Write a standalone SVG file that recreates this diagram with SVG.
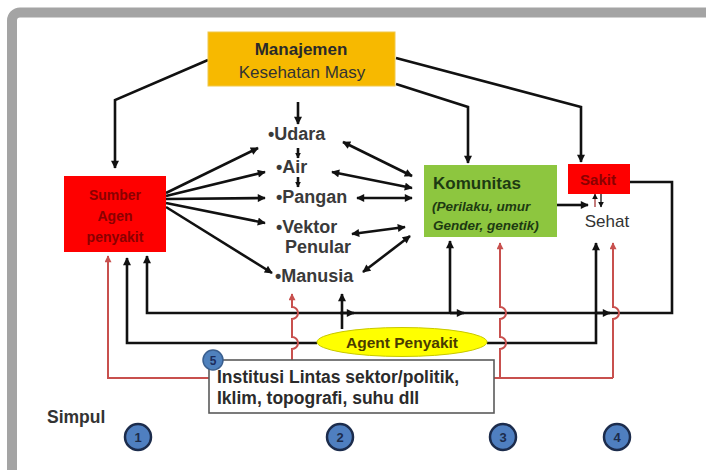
<svg xmlns="http://www.w3.org/2000/svg" width="706" height="470" viewBox="0 0 706 470">
<style>
text{font-family:"Liberation Sans",Arial,sans-serif;}
.b{font-weight:bold;}
.item{font-size:18px;font-weight:bold;fill:#3a3a3a;}
.k{fill:none;stroke:#111;stroke-width:2.6;}
.r{fill:none;stroke:#c8504e;stroke-width:2;}
.num{font-size:13px;font-weight:bold;fill:#1c2c4c;text-anchor:middle;}
.circ{fill:#4f7fc0;stroke:#1c2c4c;stroke-width:2.5;}
</style>
<defs>
<marker id="ak" viewBox="0 0 10 10" refX="9" refY="5" markerWidth="9" markerHeight="8" markerUnits="userSpaceOnUse" orient="auto-start-reverse">
<path d="M0,0 L10,5 L0,10 z" fill="#111"/>
</marker>
<marker id="ar" viewBox="0 0 10 10" refX="9" refY="5" markerWidth="8" markerHeight="7" markerUnits="userSpaceOnUse" orient="auto">
<path d="M0,0 L10,5 L0,10 z" fill="#c8504e"/>
</marker>
<marker id="as" viewBox="0 0 10 10" refX="9" refY="5" markerWidth="6" markerHeight="6" markerUnits="userSpaceOnUse" orient="auto">
<path d="M0,0 L10,5 L0,10 z" fill="#111"/>
</marker>
</defs>
<rect x="0" y="0" width="706" height="470" fill="#fff"/>
<rect x="12" y="12.5" width="720" height="480" rx="8" fill="#fff" stroke="#a4a4a4" stroke-width="10"/>

<g id="connectors">
<!-- from Manajemen -->
<path class="k" d="M208,60 L115,100 L115,168" marker-end="url(#ak)"/>
<path class="k" d="M396,84 L468,107 L468,163" marker-end="url(#ak)"/>
<path class="k" d="M396,58 L581,107 L581,162" marker-end="url(#ak)"/>
<path class="k" d="M298,102 L298,124" marker-end="url(#ak)"/>
<path class="k" d="M298,148 L298,158" stroke-width="2" marker-end="url(#as)"/>
<path class="k" d="M298,177 L298,187" stroke-width="2" marker-end="url(#as)"/>
<!-- fan from Sumber -->
<path class="k" d="M166,193 L258,148" marker-end="url(#ak)"/>
<path class="k" d="M166,196 L265,172" marker-end="url(#ak)"/>
<path class="k" d="M166,199 L265,198" marker-end="url(#ak)"/>
<path class="k" d="M166,203 L265,223" marker-end="url(#ak)"/>
<path class="k" d="M166,207 L272,273" marker-end="url(#ak)"/>
<!-- double arrows to Komunitas -->
<path class="k" d="M343,142 L412,176" marker-start="url(#ak)" marker-end="url(#ak)"/>
<path class="k" d="M332,172 L412,188" marker-start="url(#ak)" marker-end="url(#ak)"/>
<path class="k" d="M357,198 L412,198" marker-start="url(#ak)" marker-end="url(#ak)"/>
<path class="k" d="M352,234 L405,227" marker-start="url(#ak)" marker-end="url(#ak)"/>
<path class="k" d="M363,272 L410,236" marker-start="url(#ak)" marker-end="url(#ak)"/>
<!-- Komunitas to Sehat -->
<path class="k" d="M557,205 L588,205" marker-end="url(#ak)"/>
<path d="M595,207 L595,194" stroke="#b05050" stroke-width="1.5" fill="none" marker-end="url(#as)"/>
<path d="M601,194 L601,207" stroke="#333" stroke-width="1.5" fill="none" marker-end="url(#as)"/>
<!-- big loop from Sakit -->
<path class="k" d="M630,182 L672,182 L672,313 L147,313 L147,256" marker-end="url(#ak)"/>
<path class="k" d="M340,313 L354,313" marker-end="url(#ak)"/>
<path class="k" d="M450,313 L464,313" marker-end="url(#ak)"/>
<path class="k" d="M596,313 L610,313" marker-end="url(#ak)"/>
<!-- Agent loop -->
<path class="k" d="M317,343 L127,343 L127,258" marker-end="url(#ak)"/>
<path class="k" d="M487,343 L596,343 L596,243" marker-end="url(#ak)"/>
<path class="k" d="M450,313 L450,241" marker-end="url(#ak)"/>
<path class="k" d="M342,329 L342,294" marker-end="url(#ak)"/>
<!-- red lines -->
<path class="r" d="M210,378 L108,378 L108,256" marker-end="url(#ar)"/>
<path class="r" d="M292,360 L292,349 A6,6 0 0 0 292,337 L292,319 A6,6 0 0 0 292,307 L292,294" marker-end="url(#ar)"/>
<path class="r" d="M494,378 L613,378"/>
<path class="r" d="M500,378 L500,349 A6,6 0 0 0 500,337 L500,319 A6,6 0 0 0 500,307 L500,243" marker-end="url(#ar)"/>
<path class="r" d="M613,378 L613,319 A6,6 0 0 0 613,307 L613,243" marker-end="url(#ar)"/>
</g>

<g id="manajemen">
<rect x="208" y="32" width="187" height="54" fill="#f7b900" stroke="#f0c84a" stroke-width="1"/>
<text x="301" y="55" text-anchor="middle" class="b" font-size="17" fill="#2a2a2a">Manajemen</text>
<text x="302" y="78" text-anchor="middle" font-size="17" fill="#333">Kesehatan Masy</text>
</g>

<g id="sumber">
<rect x="64" y="176" width="102" height="76" fill="#fe0000"/>
<text x="115" y="200" text-anchor="middle" class="b" font-size="14" fill="#8a0000">Sumber</text>
<text x="115" y="221" text-anchor="middle" class="b" font-size="14" fill="#8a0000">Agen</text>
<text x="115" y="242" text-anchor="middle" class="b" font-size="14" fill="#8a0000">penyakit</text>
</g>

<g id="media">
<text x="268" y="140" class="item">•Udara</text>
<text x="276" y="173" class="item">•Air</text>
<text x="276" y="203" class="item">•Pangan</text>
<text x="276" y="233" class="item">•Vektor</text>
<text x="285" y="253" class="item">Penular</text>
<text x="275" y="282" class="item">•Manusia</text>
</g>

<g id="komunitas">
<rect x="424" y="165" width="133" height="72" fill="#8dc63f"/>
<text x="433" y="189" class="b" font-size="17" fill="#1d3a12">Komunitas</text>
<text x="432" y="211" class="b" font-style="italic" font-size="13.5" fill="#1d3a12">(Perilaku, umur</text>
<text x="433" y="230" class="b" font-style="italic" font-size="13.5" fill="#1d3a12">Gender, genetik)</text>
</g>

<g id="sakit">
<rect x="568" y="164" width="62" height="30" fill="#fe0000"/>
<text x="598" y="185" text-anchor="middle" class="b" font-size="15" fill="#8a0000">Sakit</text>
</g>

<g id="sehat">
<text x="607" y="227" text-anchor="middle" font-size="17" fill="#333">Sehat</text>
</g>

<g id="agent">
<ellipse cx="402" cy="342" rx="85" ry="14.5" fill="#ffff00" stroke="#c8c800" stroke-width="1"/>
<text x="402" y="348" text-anchor="middle" class="b" font-size="15.5" fill="#4a3c00">Agent Penyakit</text>
</g>

<g id="institusi">
<rect x="209" y="360" width="285" height="53" fill="#fff" stroke="#5a5a5a" stroke-width="1.6"/>
<text x="217" y="383" class="b" font-size="17.5" fill="#2b2b2b">Institusi Lintas sektor/politik,</text>
<text x="217" y="404" class="b" font-size="17.5" fill="#2b2b2b">Iklim, topografi, suhu dll</text>
<circle cx="213" cy="360" r="10" fill="#4f81bd" stroke="#3a5f8f" stroke-width="1.5"/>
<text x="213" y="365" text-anchor="middle" font-size="12" font-weight="bold" fill="#1c2c5c">5</text>
</g>

<g id="simpul">
<text x="47" y="423" class="b" font-size="17.5" fill="#333">Simpul</text>
<circle class="circ" cx="138" cy="437" r="13"/>
<text class="num" x="138" y="442">1</text>
<circle class="circ" cx="340" cy="437" r="13"/>
<text class="num" x="340" y="442">2</text>
<circle class="circ" cx="503" cy="437" r="13"/>
<text class="num" x="503" y="442">3</text>
<circle class="circ" cx="617" cy="437" r="13"/>
<text class="num" x="617" y="442">4</text>
</g>
</svg>
